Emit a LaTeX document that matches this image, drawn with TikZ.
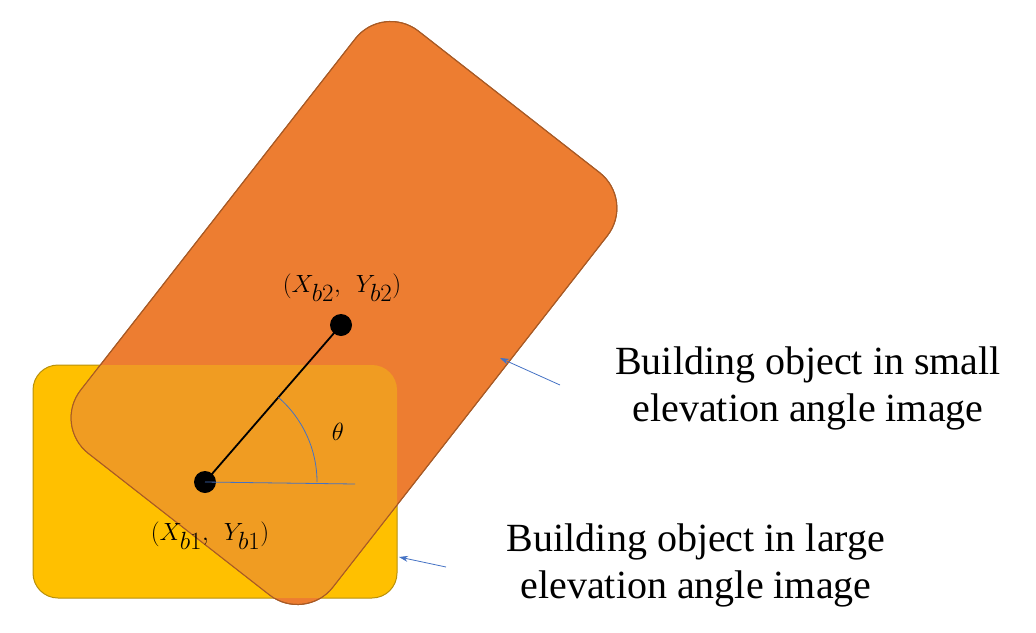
\documentclass[tikz,border=0pt]{standalone}
\usepackage{fontspec}
\setmainfont{Liberation Serif}
\usetikzlibrary{arrows.meta}
\definecolor{yel}{HTML}{FFC000}
\definecolor{yelb}{HTML}{B8900A}
\definecolor{org}{HTML}{ED7D31}
\definecolor{mix}{HTML}{F09C22}
\definecolor{orgb}{HTML}{A85A25}
\definecolor{bl}{HTML}{4472C4}
\begin{document}
\begin{tikzpicture}[x=1pt,y=-1pt,
  lbl/.style={font=\fontsize{40}{47}\selectfont,align=center},
  mlbl/.style={font=\fontsize{44}{50}\selectfont},
  dot/.style={circle,fill=black,inner sep=0pt,minimum size=22pt},
  ptr/.style={bl,line width=0.8pt,-{Stealth[length=9pt,width=6pt]}},
  ob/.style={shift={(344,313)},rotate=52}]
\useasboundingbox (0,0) rectangle (1036,632);
\fill[yel,draw=yelb,line width=1pt,rounded corners=25pt] (33,365) rectangle (397,598);
\fill[org,draw=orgb,line width=1pt,rounded corners=45pt,ob] (-268,-160) rectangle (268,160);
\begin{scope}
\clip[rounded corners=25pt] (33,365) rectangle (397,598);
\fill[mix,rounded corners=45pt,ob] (-268,-160) rectangle (268,160);
\end{scope}
\draw[orgb,line width=1pt,rounded corners=45pt,ob] (-268,-160) rectangle (268,160);
\node[dot] (b1) at (205,482) {};
\node[dot] (b2) at (341,325) {};
\coordinate (h) at (355,484);
\draw[line width=1.8pt] (b1.center) -- (b2.center);
\draw[bl,line width=0.8pt] (b1.center) -- (h);
\draw[bl,line width=0.8pt] ([shift={(0:112)}]205,482) arc[start angle=0,end angle=-49,radius=112];
\node[mlbl] (th) at (338,432) {$\theta$};
\node[mlbl] (l2) at (342,288) {$(X_{b2},\ Y_{b2})$};
\node[mlbl] (l1) at (210,536) {$(X_{b1},\ Y_{b1})$};
\node[lbl] (t1) at (808,388) {Building object in small\\elevation angle image};
\node[lbl] (t2) at (696,565) {Building object in large\\elevation angle image};
\coordinate (a1s) at (560,385); \coordinate (a1e) at (500,358);
\coordinate (a2s) at (446,567); \coordinate (a2e) at (399,557);
\draw[ptr] (a1s) -- (a1e);
\draw[ptr] (a2s) -- (a2e);
\end{tikzpicture}
\end{document}
